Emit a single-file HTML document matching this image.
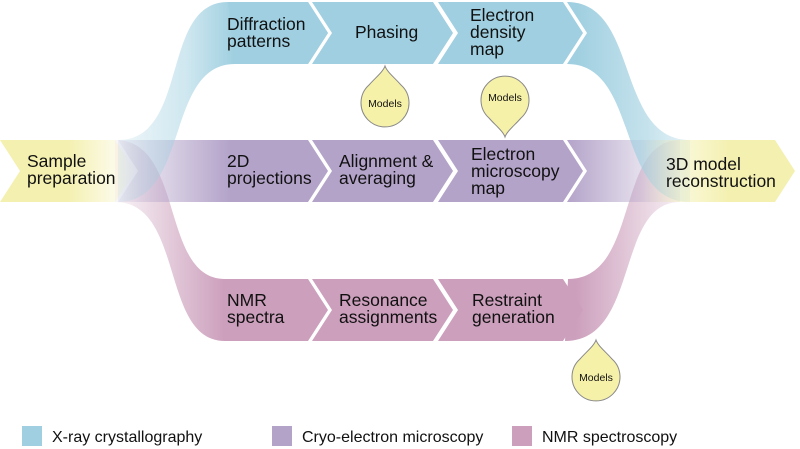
<!DOCTYPE html>
<html><head><meta charset="utf-8"><style>
html,body{margin:0;padding:0;background:#fff;width:800px;height:449px;overflow:hidden}
text{font-family:"Liberation Sans",Arial,sans-serif;fill:#111}
</style></head><body>
<svg width="800" height="449" viewBox="0 0 800 449" xmlns="http://www.w3.org/2000/svg">
<defs>
<linearGradient id="gBL" x1="115" y1="0" x2="235" y2="0" gradientUnits="userSpaceOnUse"><stop offset="0" stop-color="#9fcfe0" stop-opacity="0.15"/><stop offset="0.6" stop-color="#9fcfe0" stop-opacity="0.5"/><stop offset="1" stop-color="#9fcfe0"/></linearGradient>
<linearGradient id="gBR" x1="575" y1="0" x2="720" y2="0" gradientUnits="userSpaceOnUse"><stop offset="0" stop-color="#9fcfe0"/><stop offset="0.5" stop-color="#9fcfe0" stop-opacity="0.6"/><stop offset="1" stop-color="#9fcfe0" stop-opacity="0"/></linearGradient>
<linearGradient id="gPL" x1="115" y1="0" x2="225" y2="0" gradientUnits="userSpaceOnUse"><stop offset="0" stop-color="#cc9fbc" stop-opacity="0.1"/><stop offset="1" stop-color="#cc9fbc"/></linearGradient>
<linearGradient id="gPR" x1="575" y1="0" x2="700" y2="0" gradientUnits="userSpaceOnUse"><stop offset="0" stop-color="#cc9fbc"/><stop offset="1" stop-color="#cc9fbc" stop-opacity="0"/></linearGradient>
<linearGradient id="gM1" x1="118" y1="0" x2="230" y2="0" gradientUnits="userSpaceOnUse"><stop offset="0" stop-color="#b3a3c9" stop-opacity="0.1"/><stop offset="1" stop-color="#b3a3c9"/></linearGradient>
<linearGradient id="gM2" x1="567" y1="0" x2="680" y2="0" gradientUnits="userSpaceOnUse"><stop offset="0" stop-color="#b3a3c9"/><stop offset="1" stop-color="#b3a3c9" stop-opacity="0"/></linearGradient>
<linearGradient id="gY1" x1="0" y1="0" x2="135" y2="0" gradientUnits="userSpaceOnUse"><stop offset="0" stop-color="#f4f0b0"/><stop offset="0.5" stop-color="#f4f0b0"/><stop offset="1" stop-color="#f4f0b0" stop-opacity="0"/></linearGradient>
<linearGradient id="gY2" x1="640" y1="0" x2="730" y2="0" gradientUnits="userSpaceOnUse"><stop offset="0" stop-color="#f4f0b0" stop-opacity="0"/><stop offset="1" stop-color="#f4f0b0"/></linearGradient>
</defs>
<path d="M115,140 C185,140 160,279 225,279 L228,279 L228,341 L225,341 C160,341 185,202 115,202 Z" fill="url(#gPL)"/>
<path d="M568,279 C640,279 615,140 680,140 L680,202 C615,202 640,341 565,341 Z" fill="url(#gPR)"/>
<path d="M0,140 L115,140 L135,171 L115,202 L0,202 L20,171 Z" fill="url(#gY1)"/>
<path d="M118,140 L308,140 L328,171 L308,202 L118,202 L138,171 Z" fill="url(#gM1)"/>
<path d="M312,140 L433,140 L453,171 L433,202 L312,202 L332,171 Z" fill="#b3a3c9"/>
<path d="M438,140 L563,140 L583,171 L563,202 L438,202 L458,171 Z" fill="#b3a3c9"/>
<path d="M567,140 L680,140 L680,202 L567,202 L587,171 Z" fill="url(#gM2)"/>
<path d="M118,140 C190,140 160,2 228,2 L308,2 L328,33 L308,64 L235,64 C165,64 190,202 118,202 Z" fill="url(#gBL)"/>
<path d="M228,2 L308,2 L328,33 L308,64 L235,64 Z" fill="#9fcfe0"/>
<path d="M312,2 L433,2 L453,33 L433,64 L312,64 L332,33 Z" fill="#9fcfe0"/>
<path d="M438,2 L563,2 L583,33 L563,64 L438,64 L458,33 Z" fill="#9fcfe0"/>
<path d="M567,2 C640,2 615,140 690,140 L690,202 C615,202 640,64 567,64 L587,33 Z" fill="url(#gBR)"/>
<path d="M598,140 L775,140 L795,171 L775,202 L598,202 L618,171 Z" fill="url(#gY2)"/>
<path d="M228,279 L308,279 L328,310 L308,341 L228,341 Z" fill="#cc9fbc"/>
<path d="M312,279 L433,279 L453,310 L433,341 L312,341 L332,310 Z" fill="#cc9fbc"/>
<path d="M438,279 L563,279 L583,310 L563,341 L438,341 L458,310 Z" fill="#cc9fbc"/>
<g fill="#f6f1a9" stroke="#888" stroke-width="1">
<path d="M385,66 C387,72 395,78 401,85 A24,24 0 1 1 369,85 C375,78 383,72 385,66 Z"/>
<path d="M505,137 C503,131 495,125 489,118 A24,24 0 1 1 521,118 C515,125 507,131 505,137 Z"/>
<path d="M596,340 C598,346 606,352 612,359 A24,24 0 1 1 580,359 C586,352 594,346 596,340 Z"/>
</g>
<g font-size="10.5" text-anchor="middle">
<text x="385" y="107">Models</text><text x="505" y="101">Models</text><text x="596" y="381">Models</text>
</g>
<g font-size="17.5">
<text x="227" y="30">Diffraction</text><text x="227" y="47">patterns</text>
<text x="355" y="38">Phasing</text>
<text x="470" y="21">Electron</text><text x="470" y="38">density</text><text x="470" y="55">map</text>
<text x="27" y="167">Sample</text><text x="27" y="184">preparation</text>
<text x="227" y="167">2D</text><text x="227" y="184">projections</text>
<text x="339" y="167">Alignment &amp;</text><text x="339" y="184">averaging</text>
<text x="471" y="160">Electron</text><text x="471" y="177">microscopy</text><text x="471" y="194">map</text>
<text x="666" y="170">3D model</text><text x="666" y="187">reconstruction</text>
<text x="227" y="306">NMR</text><text x="227" y="323">spectra</text>
<text x="339" y="306">Resonance</text><text x="339" y="323">assignments</text>
<text x="472" y="306">Restraint</text><text x="472" y="323">generation</text>
</g>
<rect x="22" y="426" width="20" height="20" fill="#9fcfe0"/>
<rect x="272" y="426" width="20" height="20" fill="#b3a3c9"/>
<rect x="512" y="426" width="20" height="20" fill="#cc9fbc"/>
<g font-size="16">
<text x="52" y="442">X-ray crystallography</text>
<text x="302" y="442">Cryo-electron microscopy</text>
<text x="542" y="442">NMR spectroscopy</text>
</g>
</svg>
</body></html>
